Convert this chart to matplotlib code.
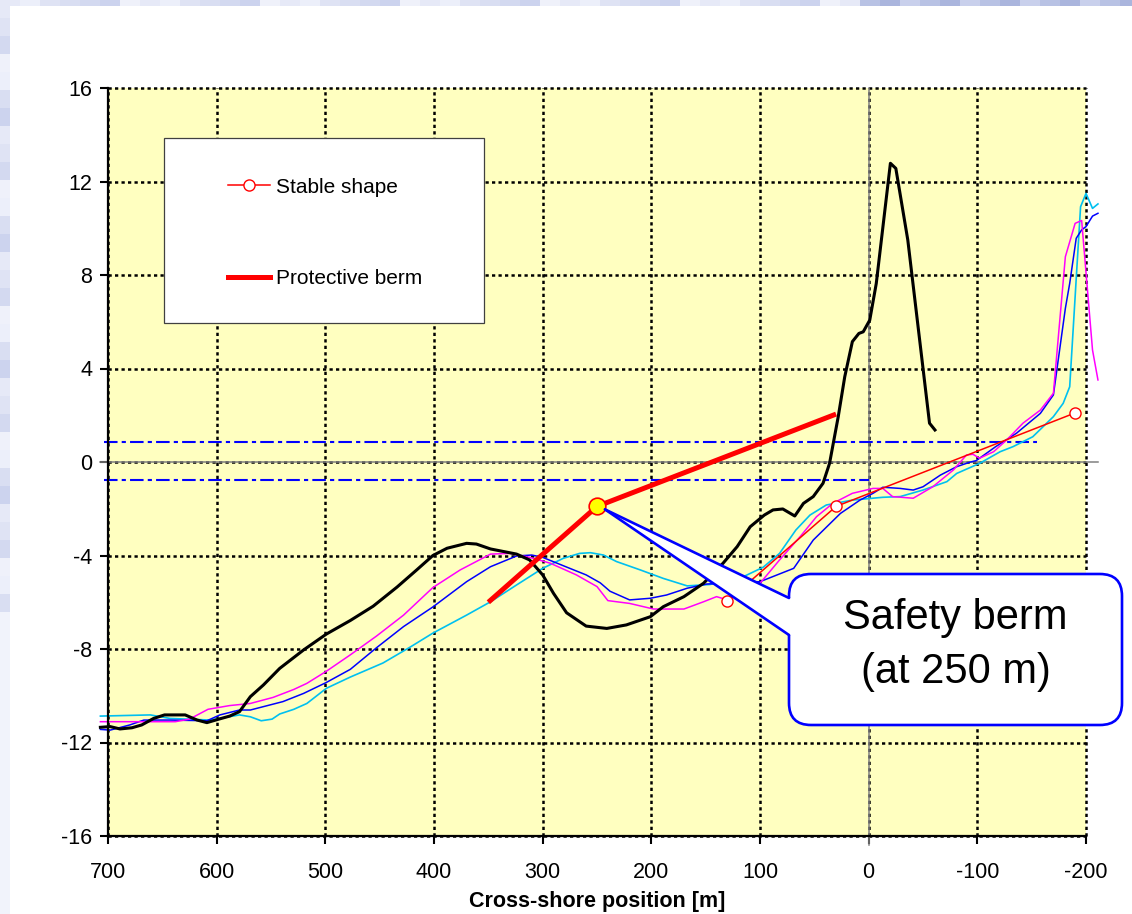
import matplotlib
matplotlib.use('Agg')
import matplotlib.pyplot as plt
from matplotlib.patches import Rectangle, FancyBboxPatch, Polygon
from matplotlib.lines import Line2D

plt.rcParams['font.family'] = ['Liberation Sans', 'DejaVu Sans']
plt.rcParams['axes.unicode_minus'] = False

# measured profile (thick black)
profile_x = [707, 698, 689, 678, 669, 658, 648, 629, 618, 609, 598, 588, 579, 569, 557,
             542, 520, 499, 477, 456, 434, 416, 401, 388, 370, 361, 348, 324, 312, 300,
             290, 278, 260, 241, 223, 201, 189, 170, 152, 134, 121, 109, 96, 88, 79, 68,
             60, 51, 42, 36, 28, 22, 15, 9, 5, -1, -7, -20, -25, -36, -56, -61]
profile_z = [-11.35, -11.32, -11.42, -11.37, -11.25, -10.97, -10.82, -10.82, -11.04, -11.15,
             -11.0, -10.87, -10.68, -10.04, -9.54, -8.83, -8.04, -7.36, -6.78, -6.17, -5.35,
             -4.62, -4.0, -3.69, -3.48, -3.51, -3.72, -3.94, -4.19, -4.83, -5.62, -6.45,
             -7.02, -7.12, -6.97, -6.62, -6.19, -5.76, -5.19, -4.33, -3.62, -2.77, -2.27,
             -2.05, -2.01, -2.31, -1.77, -1.48, -0.91, -0.06, 1.94, 3.65, 5.15, 5.5, 5.57,
             6.07, 7.64, 12.78, 12.56, 9.5, 1.66, 1.37]

# magenta profile
mag_x = [707, 638, 625, 608, 588, 569, 548, 529, 517, 499, 477, 453, 428, 401, 376, 348,
         330, 312, 293, 269, 250, 240, 220, 198, 170, 152, 140, 130, 100, 82, 63, 48, 33,
         15, -4, -13, -22, -41, -59, -78, -90, -96, -102, -115, -127, -142, -158, -170,
         -181, -190, -196, -206, -211]
mag_z = [-11.11, -11.11, -11.0, -10.58, -10.42, -10.33, -10.07, -9.73, -9.47, -8.95, -8.25,
         -7.45, -6.55, -5.37, -4.62, -3.94, -3.91, -4.08, -4.33, -4.83, -5.33, -5.93, -6.05,
         -6.29, -6.29, -5.98, -5.76, -5.9, -5.19, -4.19, -3.19, -2.34, -1.77, -1.34, -1.13,
         -1.13, -1.48, -1.55, -1.06, -0.34, 0.30, 0.33, 0.16, 0.44, 0.94, 1.66, 2.22, 2.94,
         8.78, 10.21, 10.33, 4.79, 3.51]

# blue profile
blue_x = [707, 698, 680, 667, 643, 609, 597, 579, 569, 539, 520, 499, 477, 453, 428, 401,
          370, 348, 324, 310, 300, 275, 260, 247, 238, 220, 201, 186, 167, 149, 100, 69, 51,
          26, 8, -4, -13, -29, -41, -50, -66, -81, -93, -99, -117, -136, -158, -170, -181,
          -185, -191, -196, -200, -206, -211]
blue_z = [-11.44, -11.47, -11.25, -11.04, -11.04, -11.07, -10.82, -10.61, -10.61, -10.25,
          -9.90, -9.43, -8.87, -7.95, -7.04, -6.20, -5.12, -4.48, -4.02, -3.98, -4.08, -4.55,
          -4.83, -5.17, -5.53, -5.9, -5.83, -5.69, -5.40, -5.22, -5.12, -4.55, -3.34, -2.20,
          -1.63, -1.34, -1.08, -1.13, -1.20, -1.06, -0.56, -0.20, -0.01, 0.06, 0.66, 1.23,
          2.08, 2.87, 6.57, 7.64, 9.57, 9.93, 10.07, 10.52, 10.64]

# cyan profile
cyan_x = [707, 661, 643, 606, 579, 569, 559, 549, 542, 529, 517, 499, 477, 447, 422, 401,
          370, 348, 324, 300, 281, 266, 256, 244, 232, 210, 189, 167, 146, 115, 97, 82, 67,
          54, 39, 15, -13, -29, -50, -72, -81, -102, -121, -133, -151, -170, -179, -185,
          -195, -200, -206, -211]
cyan_z = [-10.87, -10.82, -10.97, -11.04, -10.82, -10.90, -11.07, -11.0, -10.78, -10.58,
          -10.33, -9.68, -9.2, -8.6, -7.92, -7.32, -6.55, -5.98, -5.26, -4.55, -4.12, -3.91,
          -3.88, -3.98, -4.26, -4.62, -4.98, -5.30, -5.24, -4.9, -4.5, -3.91, -2.91, -2.27,
          -1.84, -1.63, -1.51, -1.48, -1.20, -0.84, -0.49, -0.06, 0.44, 0.66, 1.08, 1.94,
          2.51, 3.22, 10.92, 11.49, 10.85, 11.04]

stable_x = [130, 30, -190]
stable_z = [-5.95, -1.9, 2.1]

berm_x = [350, 250, 30]
berm_z = [-6.0, -1.9, 2.05]

safety_x = 250
safety_z = -1.9

# water levels (dash-dot)
level_hi = 0.86
level_hi_x = [704, -155]
level_lo = -0.78
level_lo_x = [704, 0]

xticks = list(range(700, -201, -100))
yticks = list(range(-16, 17, 4))

W, H = 1132, 914
fig = plt.figure(figsize=(W / 100, H / 100), dpi=100)
fig.patch.set_facecolor('white')

# pale bluish mosaic border of the slide
tile_cols = ['#e6e9f7', '#d9def2', '#eff1fa', '#dfe3f4', '#ccd3ee', '#eceffa', '#d3d9f0']
for i in range(0, W, 20):
    c = tile_cols[(i // 20 * 5) % len(tile_cols)]
    if i > 850:
        c = ['#c9d0ec', '#b8c2e4', '#aab5dd'][(i // 20) % 3]
    fig.patches.append(Rectangle((i / W, 1 - 6 / H), 20 / W, 6 / H, transform=fig.transFigure,
                                 facecolor=c, edgecolor='none'))
for j in range(0, H, 18):
    c = tile_cols[(j // 18 * 3) % len(tile_cols)]
    if j > 600:
        c = '#f1f3fb'
    fig.patches.append(Rectangle((0, 1 - (j + 18) / H), 10 / W, 18 / H, transform=fig.transFigure,
                                 facecolor=c, edgecolor='none'))

ax = fig.add_axes([108 / W, 78 / H, 978 / W, 748 / H])
ax.set_facecolor('#FFFFC0')
ax.set_xlim(700, -200)
ax.set_ylim(-16, 16)
ax.set_xticks(xticks)
ax.set_yticks(yticks)
ax.grid(True, color='black', linestyle=(0, (1.3, 1.3)), linewidth=1.8)
ax.set_axisbelow(True)
for gl in ax.get_xgridlines() + ax.get_ygridlines():
    gl.set_clip_on(False)
for s in ['top', 'right']:
    ax.spines[s].set_visible(False)
for s in ['left', 'bottom']:
    ax.spines[s].set_linewidth(1.6)
ax.tick_params(direction='out', length=5.5, width=1.5, labelsize=15.5)
ax.tick_params(axis='y', pad=6)
ax.tick_params(axis='x', pad=13)
ax.set_xlabel('Cross-shore position [m]', fontsize=15.5, fontweight='bold', labelpad=6)

# reference lines
ax.plot([707, -211], [0, 0], color='#808080', lw=1.1, clip_on=False, zorder=1.8)
ax.plot([0, 0], [16, -16.4], color='#808080', lw=1.1, clip_on=False, zorder=1.8)
ax.plot(level_hi_x, [level_hi, level_hi], color='#0000FF', lw=1.5,
        linestyle=(0, (6.5, 2, 2, 2)), clip_on=False, zorder=1.9)
ax.plot(level_lo_x, [level_lo, level_lo], color='#0000FF', lw=1.5,
        linestyle=(0, (6.5, 2, 2, 2)), clip_on=False, zorder=1.9)

ax.plot(cyan_x, cyan_z, color='#00C0F0', lw=1.2, clip_on=False)
ax.plot(blue_x, blue_z, color='#0000FF', lw=1.1, clip_on=False)
ax.plot(mag_x, mag_z, color='#FF00FF', lw=1.1, clip_on=False)
ax.plot(profile_x, profile_z, color='black', lw=2.2, clip_on=False)
ax.plot(stable_x, stable_z, color='red', lw=1.1, marker='o', ms=8,
        mfc='white', mec='red', mew=1.0, clip_on=False, zorder=3)
ax.plot(berm_x, berm_z, color='red', lw=3.6, solid_capstyle='butt', zorder=3)
ax.plot(safety_x, safety_z, 'o', ms=12, mfc='yellow', mec='red', mew=1.2, zorder=4)

# legend with its own frame
ax.add_patch(Rectangle((0.0573, 0.6858), 0.3272, 0.2474, transform=ax.transAxes,
                       facecolor='white', edgecolor='#404040', lw=0.9, zorder=4))
h1 = Line2D([], [], color='red', lw=1.1, marker='o', ms=8, mfc='white', mec='red')
h2 = Line2D([], [], color='red', lw=3.6)
ax.legend([h1, h2], ['Stable shape', 'Protective berm'], loc='upper left',
          bbox_to_anchor=(0.1227, 0.880), frameon=False, fontsize=15,
          handlelength=2.0, handletextpad=0.3, labelspacing=3.48,
          borderpad=0, borderaxespad=0)

# callout
tr = fig.dpi_scale_trans
tip = tr.inverted().transform(ax.transData.transform((safety_x, safety_z)))
tip = (tip[0] + 0.08, tip[1] - 0.03)
bx0, by0, bw, bh = 7.89, 1.89, 3.33, 1.51
b_hi, b_lo = 3.16, 2.79
fig.add_artist(FancyBboxPatch((bx0, by0), bw, bh, boxstyle='round,pad=0,rounding_size=0.22',
                              transform=tr, facecolor='white', edgecolor='#0000FF',
                              lw=1.9, zorder=7))
fig.add_artist(Polygon([tip, (bx0, b_hi), (bx0 + 0.05, b_hi), (bx0 + 0.05, b_lo), (bx0, b_lo)],
                       closed=True, transform=tr, facecolor='white', edgecolor='none', zorder=8))
fig.add_artist(Line2D([tip[0], bx0], [tip[1], b_hi], transform=tr, color='#0000FF', lw=1.9,
                      solid_capstyle='round', zorder=9))
fig.add_artist(Line2D([tip[0], bx0], [tip[1], b_lo], transform=tr, color='#0000FF', lw=1.9,
                      solid_capstyle='round', zorder=9))
fig.text(bx0 + bw / 2, 2.69, 'Safety berm\n(at 250 m)', transform=tr, fontsize=30,
         ha='center', va='center', multialignment='center', linespacing=1.42, zorder=10)

fig.savefig('out.png', dpi=100, facecolor='white')
